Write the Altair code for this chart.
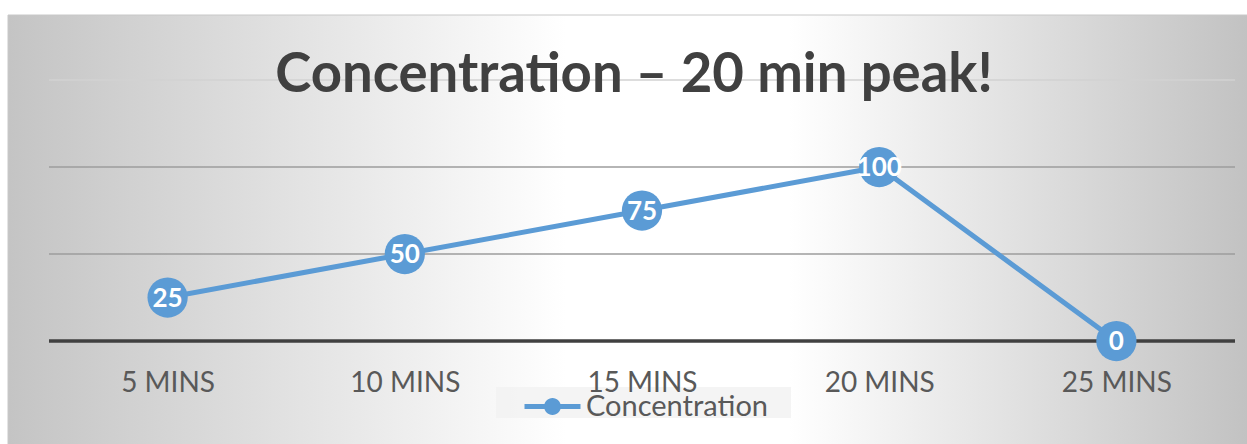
import altair as alt
import pandas as pd

# ---- data ----
categories = ["5 MINS", "10 MINS", "15 MINS", "20 MINS", "25 MINS"]
values = [25, 50, 75, 100, 0]
series_name = "Concentration"
grid_values = [50, 100, 150]
title_text = "Concentration \u2013 20 min peak!"

W, H = 1186, 261
BLUE = "#5b9bd5"
FONT = "Lato"

df = pd.DataFrame({"time": categories, "value": values, "series": [series_name] * len(values)})
grid_df = pd.DataFrame({"v": grid_values})
zero_df = pd.DataFrame({"v": [0]})
one = pd.DataFrame({"t": [title_text]})

yscale = alt.Scale(domain=[0, 150], nice=False, zero=True)
xscale = alt.Scale(type="point", padding=0.5)

gradient = {
    "gradient": "linear",
    "x1": 0, "y1": 0, "x2": 1, "y2": 0,
    "stops": [
        {"offset": 0, "color": "#c4c4c4"},
        {"offset": 0.45, "color": "#ffffff"},
        {"offset": 0.63, "color": "#ffffff"},
        {"offset": 1, "color": "#c2c2c2"},
    ],
}

bg = alt.Chart(one).mark_rect(fill=gradient, stroke="#c8c8c8", strokeWidth=1).encode(
    x=alt.value(-41), x2=alt.value(1199), y=alt.value(-65), y2=alt.value(366)
)

legend_bg = alt.Chart(one).mark_rect(fill="#f2f2f2", opacity=0.85).encode(
    x=alt.value(447), x2=alt.value(742), y=alt.value(307), y2=alt.value(338)
)

grid = alt.Chart(grid_df).mark_rule(strokeWidth=1.5).encode(
    y=alt.Y("v:Q", scale=yscale, axis=None),
    color=alt.condition("datum.v >= 150", alt.value("#d2d2d2"), alt.value("#9c9c9c")),
)

zero = alt.Chart(zero_df).mark_rule(strokeWidth=3.5, color="#404040").encode(
    y=alt.Y("v:Q", scale=yscale, axis=None)
)

x_enc = alt.X(
    "time:N",
    sort=categories,
    scale=xscale,
    title=None,
    axis=alt.Axis(
        domain=False, ticks=False, tickSize=0, grid=False,
        labelFont=FONT, labelFontSize=28, labelColor="#595959",
        labelPadding=28, labelAngle=0, zindex=1,
    ),
)
y_enc = alt.Y("value:Q", scale=yscale, axis=None)

line = alt.Chart(df).mark_line(stroke=BLUE, strokeWidth=5).encode(x=x_enc, y=y_enc)

legend_path = ("M-2,-0.18 L2,-0.18 L2,0.18 L-2,0.18 Z "
               "M-0.6,0 A0.6,0.6 0 1,1 0.6,0 A0.6,0.6 0 1,1 -0.6,0 Z")

points = alt.Chart(df).mark_circle(size=1620, opacity=1).encode(
    x=x_enc,
    y=y_enc,
    color=alt.Color(
        "series:N",
        scale=alt.Scale(range=[BLUE]),
        legend=alt.Legend(
            title=None, orient="none", legendX=489, legendY=312,
            symbolType=legend_path, symbolSize=784, symbolStrokeWidth=0,
            symbolOpacity=1, symbolOffset=0, padding=0, labelOffset=19,
            labelLimit=0,
            labelFont=FONT, labelFontSize=29, labelColor="#595959",
        ),
    ),
)

labels = alt.Chart(df).mark_text(
    font=FONT, fontSize=26, fontWeight="bold", color="white", baseline="middle", dy=1
).encode(x=x_enc, y=y_enc, text=alt.Text("value:Q"))

title = alt.Chart(one).mark_text(
    font=FONT, fontSize=54.5, fontWeight="bold", color="#404040", baseline="alphabetic", align="center"
).encode(x=alt.value(585), y=alt.value(12), text="t:N")

chart = alt.layer(bg, legend_bg, grid, zero, line, points, labels, title).properties(
    width=W, height=H,
    autosize=alt.AutoSizeParams(type="none"),
    padding={"left": 49, "top": 80, "right": 12, "bottom": 103},
    background="white",
).configure_view(stroke=None)

chart.save("out.html", embed_options={"renderer": "svg", "actions": False})
